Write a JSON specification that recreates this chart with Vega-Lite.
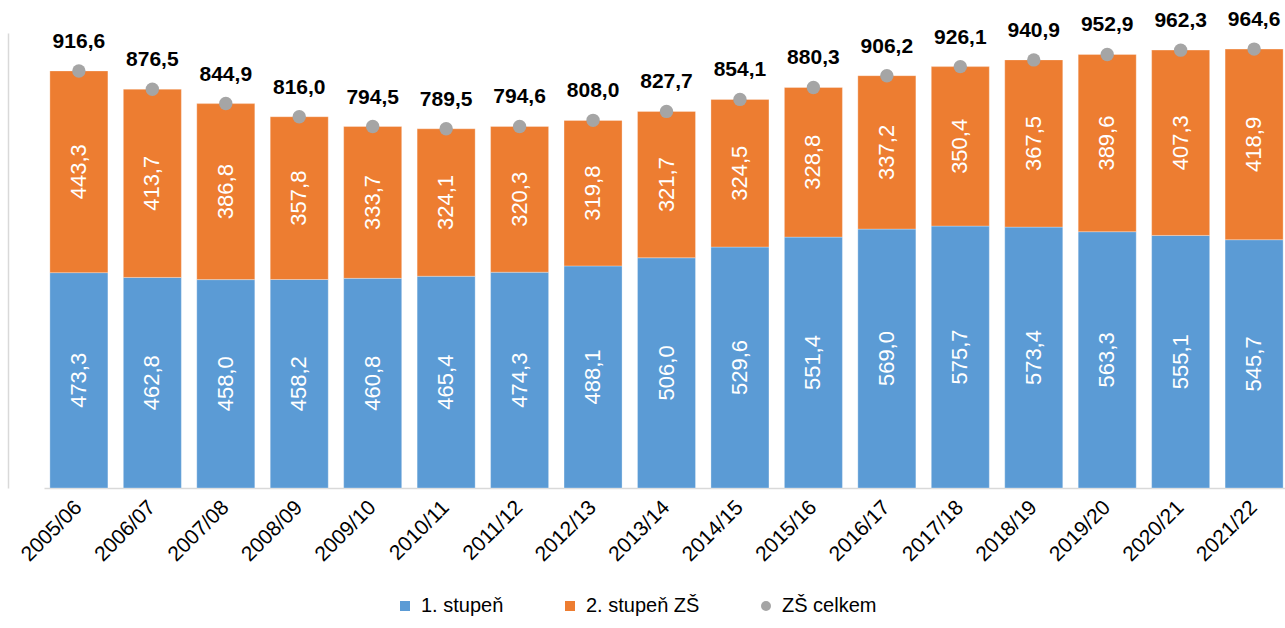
{
  "$schema": "https://vega.github.io/schema/vega-lite/v6.json",
  "autosize": {"type": "none"},
  "padding": {"left": 44, "top": 33, "right": 0, "bottom": 140},
  "width": 1245,
  "height": 455,
  "background": "white",
  "config": {
    "locale": {"number": {"decimal": ",", "thousands": " ", "grouping": [3], "currency": ["", " Kč"]}},
    "font": "Liberation Sans",
    "view": {"stroke": null}
  },
  "data": {"values": [
    {"year": "2005/06", "series": "1. stupeň", "value": 473.3},
    {"year": "2006/07", "series": "1. stupeň", "value": 462.8},
    {"year": "2007/08", "series": "1. stupeň", "value": 458.0},
    {"year": "2008/09", "series": "1. stupeň", "value": 458.2},
    {"year": "2009/10", "series": "1. stupeň", "value": 460.8},
    {"year": "2010/11", "series": "1. stupeň", "value": 465.4},
    {"year": "2011/12", "series": "1. stupeň", "value": 474.3},
    {"year": "2012/13", "series": "1. stupeň", "value": 488.1},
    {"year": "2013/14", "series": "1. stupeň", "value": 506.0},
    {"year": "2014/15", "series": "1. stupeň", "value": 529.6},
    {"year": "2015/16", "series": "1. stupeň", "value": 551.4},
    {"year": "2016/17", "series": "1. stupeň", "value": 569.0},
    {"year": "2017/18", "series": "1. stupeň", "value": 575.7},
    {"year": "2018/19", "series": "1. stupeň", "value": 573.4},
    {"year": "2019/20", "series": "1. stupeň", "value": 563.3},
    {"year": "2020/21", "series": "1. stupeň", "value": 555.1},
    {"year": "2021/22", "series": "1. stupeň", "value": 545.7},
    {"year": "2005/06", "series": "2. stupeň ZŠ", "value": 443.3},
    {"year": "2006/07", "series": "2. stupeň ZŠ", "value": 413.7},
    {"year": "2007/08", "series": "2. stupeň ZŠ", "value": 386.8},
    {"year": "2008/09", "series": "2. stupeň ZŠ", "value": 357.8},
    {"year": "2009/10", "series": "2. stupeň ZŠ", "value": 333.7},
    {"year": "2010/11", "series": "2. stupeň ZŠ", "value": 324.1},
    {"year": "2011/12", "series": "2. stupeň ZŠ", "value": 320.3},
    {"year": "2012/13", "series": "2. stupeň ZŠ", "value": 319.8},
    {"year": "2013/14", "series": "2. stupeň ZŠ", "value": 321.7},
    {"year": "2014/15", "series": "2. stupeň ZŠ", "value": 324.5},
    {"year": "2015/16", "series": "2. stupeň ZŠ", "value": 328.8},
    {"year": "2016/17", "series": "2. stupeň ZŠ", "value": 337.2},
    {"year": "2017/18", "series": "2. stupeň ZŠ", "value": 350.4},
    {"year": "2018/19", "series": "2. stupeň ZŠ", "value": 367.5},
    {"year": "2019/20", "series": "2. stupeň ZŠ", "value": 389.6},
    {"year": "2020/21", "series": "2. stupeň ZŠ", "value": 407.3},
    {"year": "2021/22", "series": "2. stupeň ZŠ", "value": 418.9},
    {"year": "2005/06", "series": "ZŠ celkem", "value": 916.6},
    {"year": "2006/07", "series": "ZŠ celkem", "value": 876.5},
    {"year": "2007/08", "series": "ZŠ celkem", "value": 844.9},
    {"year": "2008/09", "series": "ZŠ celkem", "value": 816.0},
    {"year": "2009/10", "series": "ZŠ celkem", "value": 794.5},
    {"year": "2010/11", "series": "ZŠ celkem", "value": 789.5},
    {"year": "2011/12", "series": "ZŠ celkem", "value": 794.6},
    {"year": "2012/13", "series": "ZŠ celkem", "value": 808.0},
    {"year": "2013/14", "series": "ZŠ celkem", "value": 827.7},
    {"year": "2014/15", "series": "ZŠ celkem", "value": 854.1},
    {"year": "2015/16", "series": "ZŠ celkem", "value": 880.3},
    {"year": "2016/17", "series": "ZŠ celkem", "value": 906.2},
    {"year": "2017/18", "series": "ZŠ celkem", "value": 926.1},
    {"year": "2018/19", "series": "ZŠ celkem", "value": 940.9},
    {"year": "2019/20", "series": "ZŠ celkem", "value": 952.9},
    {"year": "2020/21", "series": "ZŠ celkem", "value": 962.3},
    {"year": "2021/22", "series": "ZŠ celkem", "value": 964.6}
  ]},
  "encoding": {
    "x": {
      "field": "year", "type": "nominal", "sort": null,
      "scale": {"paddingInner": 0.21, "paddingOuter": 0.08},
      "axis": {
        "title": null, "labelAngle": -45, "labelAlign": "right", "labelBaseline": "middle",
        "labelFontSize": 21, "labelColor": "#000000", "labelPadding": 16,
        "ticks": false, "domainColor": "#D9D9D9", "domainWidth": 1.5, "grid": false
      }
    }
  },
  "layer": [
    {
      "transform": [{"filter": "datum.series !== 'ZŠ celkem'"}],
      "mark": {"type": "bar", "stroke": "#ffffff", "strokeWidth": 0.6, "strokeOpacity": 0.5},
      "encoding": {
        "y": {
          "field": "value", "type": "quantitative", "stack": "zero",
          "scale": {"domain": [0, 1000], "nice": false},
          "axis": {"title": null, "labels": false, "ticks": false, "grid": false, "domain": true, "domainColor": "#D9D9D9", "domainWidth": 1.5, "offset": 36}
        },
        "color": {
          "field": "series", "type": "nominal",
          "scale": {"domain": ["1. stupeň", "2. stupeň ZŠ", "ZŠ celkem"], "range": ["#5B9BD5", "#ED7D31", "#A5A5A5"]},
          "legend": {
            "title": null, "orient": "none", "direction": "horizontal",
            "legendX": 351, "legendY": 563,
            "labelFontSize": 20, "labelColor": "#000000", "labelOffset": 6,
            "symbolSize": 100, "symbolStrokeWidth": 0, "columnPadding": 56
          }
        },
        "order": {"field": "series", "sort": "ascending"}
      }
    },
    {
      "transform": [
        {"filter": "datum.series !== 'ZŠ celkem'"},
        {"stack": "value", "groupby": ["year"], "sort": [{"field": "series", "order": "ascending"}], "as": ["v0", "v1"]},
        {"fold": ["v0", "v1"], "as": ["k", "pos"]},
        {"aggregate": [{"op": "mean", "field": "pos", "as": "mid"}], "groupby": ["year", "series", "value"]}
      ],
      "mark": {"type": "text", "angle": 270, "color": "#ffffff", "fontSize": 22, "align": "center", "baseline": "middle"},
      "encoding": {
        "y": {"field": "mid", "type": "quantitative", "scale": {"domain": [0, 1000], "nice": false}},
        "text": {"field": "value", "type": "quantitative", "format": ".1f"}
      }
    },
    {
      "transform": [{"filter": "datum.series === 'ZŠ celkem'"}],
      "mark": {"type": "point", "filled": true, "size": 180, "opacity": 1},
      "encoding": {
        "y": {"field": "value", "type": "quantitative", "stack": null, "scale": {"domain": [0, 1000], "nice": false}},
        "color": {"field": "series", "type": "nominal"},
        "shape": {
          "field": "series", "type": "nominal",
          "scale": {"domain": ["1. stupeň", "2. stupeň ZŠ", "ZŠ celkem"], "range": ["square", "square", "circle"]},
          "legend": {
            "title": null, "orient": "none", "direction": "horizontal",
            "legendX": 351, "legendY": 563,
            "labelFontSize": 20, "labelColor": "#000000", "labelOffset": 6,
            "symbolSize": 100, "symbolStrokeWidth": 0, "columnPadding": 56
          }
        }
      }
    },
    {
      "transform": [{"filter": "datum.series === 'ZŠ celkem'"}],
      "mark": {"type": "text", "fontSize": 21, "fontWeight": "bold", "color": "#000000", "dy": -29, "baseline": "middle"},
      "encoding": {
        "y": {"field": "value", "type": "quantitative", "stack": null, "scale": {"domain": [0, 1000], "nice": false}},
        "text": {"field": "value", "type": "quantitative", "format": ".1f"}
      }
    }
  ]
}
